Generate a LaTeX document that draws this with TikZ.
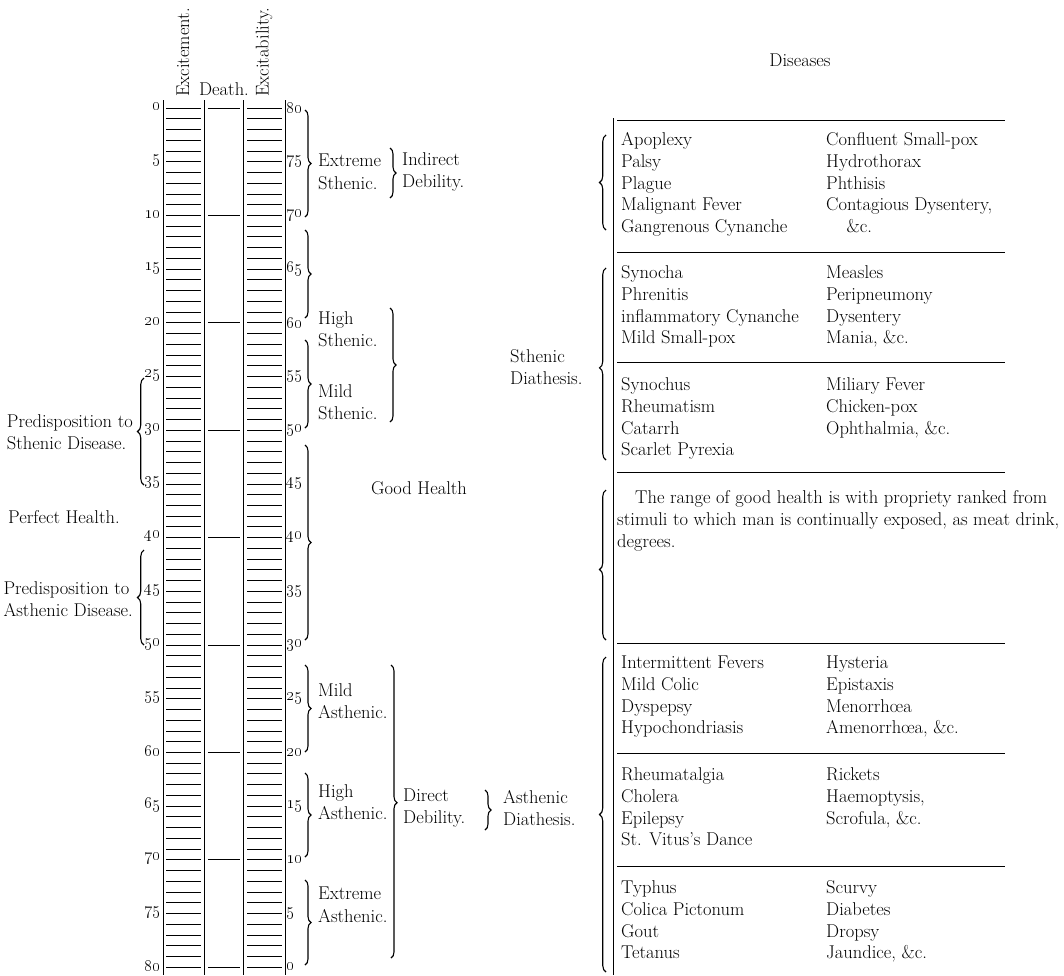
\documentclass[tikz,border=0pt]{standalone}
\usetikzlibrary{decorations.pathreplacing}
\tikzset{
  rule/.style={line width=0.8pt},
  tick/.style={line width=0.8pt},
  brR/.style={decorate, decoration={brace, amplitude=6pt}, line width=1.1pt},
  brL/.style={decorate, decoration={brace, amplitude=6.5pt, mirror}, line width=1.1pt},
  lbl/.style={font=\fontsize{18.5}{22.5}\selectfont, align=left, inner sep=0pt},
  num/.style={font=\fontsize{17.5}{17.5}\selectfont, inner sep=0.5pt},
  dis/.style={font=\fontsize{18.5}{21.8}\selectfont, align=left, anchor=north west, inner sep=0pt},
}
\begin{document}
\begin{tikzpicture}[x=1pt, y=-1pt]
  \useasboundingbox (0,0) rectangle (1064,975);

  % headings of the scale
  \node[lbl, rotate=90, anchor=west] (hExc) at (183,97) {Excitement.};
  \node[lbl, anchor=base] (hDeath) at (224,95) {Death.};
  \node[lbl, rotate=90, anchor=west] (hExb) at (264,97) {Excitability.};

  % the three columns
  \foreach \x in {163,204,243,285}
    \draw[rule] (\x,100) -- (\x,975);
  \foreach \d in {0,...,80}{
    \draw[tick] (166,{108+10.74*\d}) -- (201,{108+10.74*\d});
    \draw[tick] (247,{108+10.74*\d}) -- (282,{108+10.74*\d});
  }
  \foreach \d in {0,10,...,80}
    \draw[tick] (208,{108+10.74*\d}) -- (240,{108+10.74*\d});
  \foreach \d in {0,5,...,80}{
    \pgfmathtruncatemacro\r{80-\d}
    \node[num, anchor=east] (exc\d) at (161,{107+10.74*\d}) {\oldstylenums{\d}};
    \node[num, anchor=west] (exb\r) at (286,{108+10.74*\d}) {\oldstylenums{\r}};
  }

  % left of the scale
  \draw[brL] (144,378) -- (144,485);
  \node[lbl, anchor=east] (preS) at (133,432) {Predisposition to\\Sthenic Disease.};
  \node[lbl, anchor=west] (perf) at (8,517) {Perfect Health.};
  \draw[brL] (144,550) -- (144,645);
  \node[lbl, anchor=east] (preA) at (133,599) {Predisposition to\\Asthenic Disease.};

  % right of the scale, sthenic side
  \draw[brR] (305,110) -- (305,217);
  \node[lbl, anchor=west] (exS) at (318,172) {Extreme\\Sthenic.};
  \draw[brR] (390,148) -- (390,198);
  \node[lbl, anchor=west] (indD) at (402,172) {Indirect\\Debility.};
  \draw[brR] (305,230) -- (305,318);
  \node[lbl, anchor=west] (hiS) at (318,329) {High\\Sthenic.};
  \draw[brR] (305,340) -- (305,428);
  \node[lbl, anchor=west] (miS) at (318,402) {Mild\\Sthenic.};
  \draw[brR] (390,308) -- (390,422);
  \draw[brR] (305,445) -- (305,640);
  \node[lbl] (good) at (419,488) {Good Health};

  % right of the scale, asthenic side
  \draw[brR] (305,665) -- (305,752);
  \node[lbl, anchor=west] (miA) at (318,701) {Mild\\Asthenic.};
  \draw[brR] (305,773) -- (305,857);
  \node[lbl, anchor=west] (hiA) at (318,802) {High\\Asthenic.};
  \draw[brR] (305,880) -- (305,965);
  \node[lbl, anchor=west] (exA) at (318,905) {Extreme\\Asthenic.};
  \draw[brR, decoration={aspect=0.47}] (391,665) -- (391,958);
  \node[lbl, anchor=west] (dirD) at (403,808) {Direct\\Debility.};
  \draw[brR] (485,790) -- (485,830);
  \node[lbl, anchor=west] (asD) at (503,808) {Asthenic\\Diathesis.};
  \node[lbl, anchor=west] (stD) at (510,367) {Sthenic\\Diathesis.};

  % table of diseases
  \node[lbl] (dis) at (800,60) {Diseases};
  \draw[rule] (613,118) -- (613,975);
  \foreach \y in {120,252,362,472,643,753,866}
    \draw[rule] (617,\y) -- (1005,\y);

  \draw[brL] (606,135) -- (606,230);
  \draw[brL, decoration={aspect=0.52}] (606,268) -- (606,460);
  \draw[brL, decoration={aspect=0.53}] (606,490) -- (606,640);
  \draw[brL] (606,657) -- (606,972);

  \node[dis] (d1a) at (621,130) {\strut Apoplexy\\Palsy\\Plague\\Malignant Fever\\Gangrenous Cynanche};
  \node[dis] (d1b) at (826,130) {\strut Confluent Small-pox\\Hydrothorax\\Phthisis\\Contagious Dysentery,\\\hspace*{1.1em}\&c.};
  \node[dis] (d2a) at (621,263) {\strut Synocha\\Phrenitis\\inflammatory Cynanche\\Mild Small-pox};
  \node[dis] (d2b) at (826,263) {\strut Measles\\Peripneumony\\Dysentery\\Mania, \&c.};
  \node[dis] (d3a) at (621,375) {\strut Synochus\\Rheumatism\\Catarrh\\Scarlet Pyrexia};
  \node[dis] (d3b) at (826,375) {\strut Miliary Fever\\Chicken-pox\\Ophthalmia, \&c.};
  \node[dis] (d4) at (617,488) {\strut\hspace*{18pt}The range of good health is with propriety ranked from\\stimuli to which man is continually exposed, as meat drink,\\degrees.};
  \node[dis] (d5a) at (621,653) {\strut Intermittent Fevers\\Mild Colic\\Dyspepsy\\Hypochondriasis};
  \node[dis] (d5b) at (826,653) {\strut Hysteria\\Epistaxis\\Menorrh\oe a\\Amenorrh\oe a, \&c.};
  \node[dis] (d6a) at (621,765) {\strut Rheumatalgia\\Cholera\\Epilepsy\\St. Vitus's Dance};
  \node[dis] (d6b) at (826,765) {\strut Rickets\\Haemoptysis,\\Scrofula, \&c.};
  \node[dis] (d7a) at (621,878) {\strut Typhus\\Colica Pictonum\\Gout\\Tetanus};
  \node[dis] (d7b) at (826,878) {\strut Scurvy\\Diabetes\\Dropsy\\Jaundice, \&c.};
\end{tikzpicture}
\end{document}
